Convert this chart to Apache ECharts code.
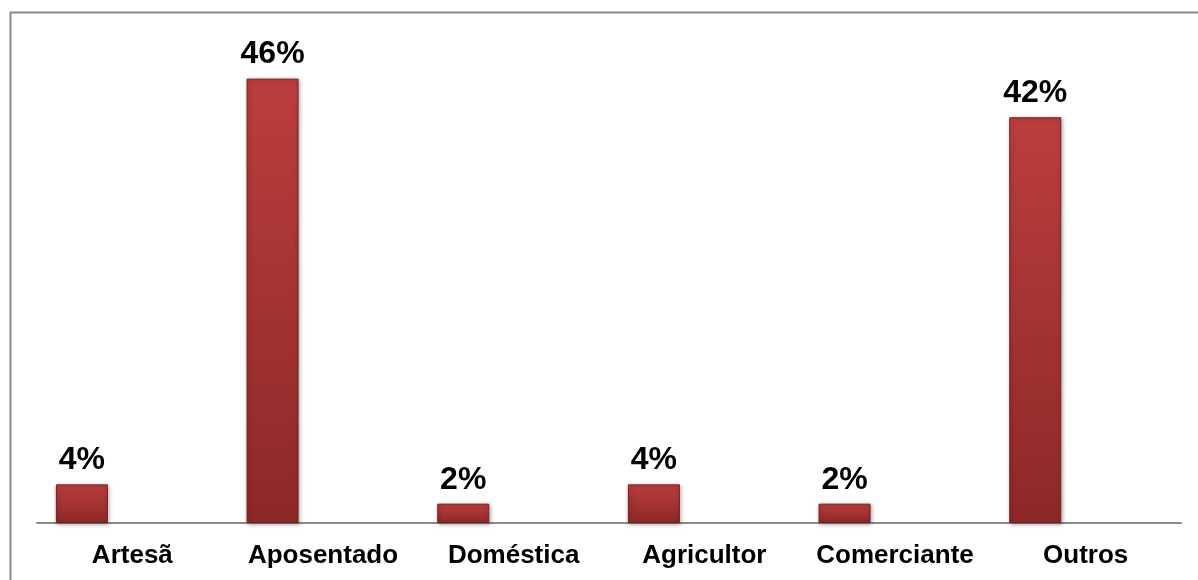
<!DOCTYPE html>
<html>
<head>
<meta charset="utf-8">
<script src="https://cdn.jsdelivr.net/npm/echarts@6/dist/echarts.min.js"></script>
<style>html,body{margin:0;padding:0;background:#fff;}#c{width:1198px;height:580px;}</style>
</head>
<body>
<div id="c"></div>
<script>
const categories = ['Artesã', 'Aposentado', 'Doméstica', 'Agricultor', 'Comerciante', 'Outros'];
const values = [4, 46, 2, 4, 2, 42];
const spacer = [null, null, null, null, null, null];

const chart = echarts.init(document.getElementById('c'));
chart.setOption({
  animation: false,
  backgroundColor: '#fff',
  graphic: [{
    type: 'rect', left: 8, top: 10, shape: { width: 1220, height: 620 },
    style: { fill: 'none', stroke: '#8a8a8a', lineWidth: 2 }, z: 100
  }],
  grid: { left: 37, right: 17, top: 40, bottom: 57 },
  xAxis: {
    type: 'category', data: categories,
    axisLine: { lineStyle: { color: '#8a8a8a', width: 2 } },
    axisTick: { show: false },
    axisLabel: { interval: 0, color: '#000', fontWeight: 'bold', fontFamily: 'Liberation Sans, Arial, sans-serif', fontSize: 26, margin: 20 }
  },
  yAxis: { type: 'value', min: 0, max: 50, show: false, splitLine: { show: false } },
  series: [{
    type: 'bar', data: values, barWidth: 52, barGap: '94%',
    itemStyle: {
      color: { type: 'linear', x: 0, y: 0, x2: 0, y2: 1, colorStops: [
        { offset: 0, color: '#bb3e3d' }, { offset: 1, color: '#8d2828' }] },
      borderColor: '#7a1f1f', borderWidth: 1,
      shadowColor: 'rgba(0,0,0,0.35)', shadowBlur: 4, shadowOffsetX: 1, shadowOffsetY: 1
    },
    label: { show: true, position: 'top', distance: 8, formatter: '{c}%', color: '#000', fontWeight: 'bold', fontFamily: 'Liberation Sans, Arial, sans-serif', fontSize: 32 }
  }, {
    type: 'bar', data: spacer, barWidth: 52
  }]
});
</script>
</body>
</html>
